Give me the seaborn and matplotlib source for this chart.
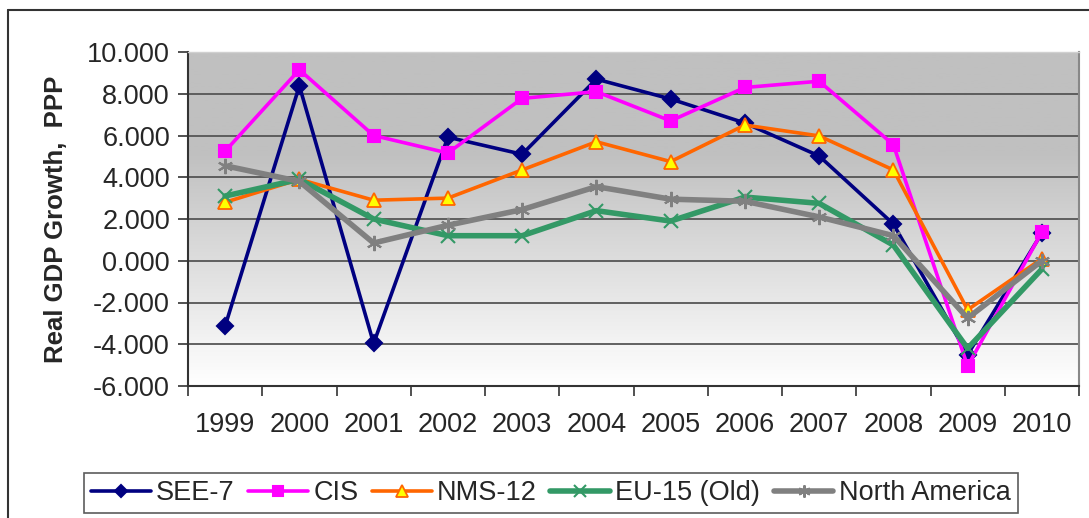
import matplotlib
matplotlib.use("Agg")
import matplotlib.pyplot as plt
import numpy as np
import pandas as pd
import seaborn as sns
from matplotlib.colors import LinearSegmentedColormap
from matplotlib.lines import Line2D

years = ["1999", "2000", "2001", "2002", "2003", "2004", "2005", "2006", "2007", "2008", "2009", "2010"]
see7 = [-3.13, 8.38, -3.96, 5.92, 5.10, 8.70, 7.75, 6.60, 5.02, 1.76, -4.50, 1.33]
cis = [5.25, 9.15, 6.00, 5.16, 7.78, 8.10, 6.70, 8.30, 8.60, 5.56, -5.05, 1.37]
nms12 = [2.80, 3.90, 2.90, 3.00, 4.35, 5.70, 4.75, 6.50, 5.98, 4.35, -2.35, 0.10]
eu15 = [3.10, 3.90, 2.00, 1.20, 1.20, 2.40, 1.90, 3.05, 2.75, 0.75, -4.20, -0.40]
north_america = [4.55, 3.80, 0.85, 1.70, 2.45, 3.55, 2.95, 2.85, 2.10, 1.20, -2.75, 0.00]

series = {
    "SEE-7": see7,
    "CIS": cis,
    "NMS-12": nms12,
    "EU-15 (Old)": eu15,
    "North America": north_america,
}

styles = {
    "SEE-7": dict(color="#000080", lw=2.6, marker="D", ms=8, mfc="#000080", mec="#000080"),
    "CIS": dict(color="#FF00FF", lw=2.6, marker="s", ms=9, mfc="#FF00FF", mec="#FF00FF"),
    "NMS-12": dict(color="#FF6600", lw=2.6, marker="^", ms=10, mfc="#FFFF00", mec="#FF6600"),
    "EU-15 (Old)": dict(color="#339966", lw=4.0, marker="x", ms=10, mfc="#339966", mec="#339966"),
    "North America": dict(color="#808080", lw=4.0, marker=(6, 2, 0), ms=11, mfc="#808080", mec="#808080"),
}

sns.set_style("white")
plt.rcParams["font.family"] = ["Liberation Sans", "DejaVu Sans"]

fig = plt.figure(figsize=(10.89, 5.18), dpi=100)
ax = fig.add_axes([188 / 1089, 1 - 386 / 518, 891 / 1089, 334 / 518])

# gray-to-white gradient background
grad = np.linspace(0, 1, 256).reshape(-1, 1)
cmap = LinearSegmentedColormap.from_list("bg", [(0, "#ffffff"), (0.7, "#c0c0c0"), (1, "#c0c0c0")])
ax.imshow(grad, extent=[-0.5, 11.5, -6, 10], origin="lower", aspect="auto", cmap=cmap, zorder=0)

for y in range(-4, 10, 2):
    ax.axhline(y, color="#555555", lw=1.3, zorder=1)

x = np.arange(len(years))
for name, vals in series.items():
    st = styles[name]
    df = pd.DataFrame({"x": x, "y": vals})
    sns.lineplot(data=df, x="x", y="y", ax=ax, color=st["color"], lw=st["lw"],
                 marker=st["marker"], markersize=st["ms"], markerfacecolor=st["mfc"],
                 markeredgecolor=st["mec"], markeredgewidth=1.5 if st["marker"] != "^" else 1.3,
                 label=name, zorder=3)

ax.set_xlim(-0.5, 11.5)
ax.set_ylim(-6, 10)
ax.set_yticks(np.arange(-6, 11, 2))
ax.set_yticklabels([f"{v:.3f}" for v in np.arange(-6, 11, 2)], fontsize=19.5)
ax.set_xticks(np.arange(-0.5, 12, 1))
ax.set_xticklabels([])
ax.set_xticks(x, minor=True)
ax.set_xticklabels(years, minor=True, fontsize=19.5)
ax.tick_params(axis="x", which="minor", length=0, pad=19)
ax.tick_params(axis="x", which="major", direction="out", length=7, width=1.2, color="#333333", bottom=True)
ax.tick_params(axis="y", direction="out", length=7, width=1.2, color="#333333", left=True, pad=6)
ax.set_xlabel("")
ax.set_ylabel("Real GDP Growth,  PPP", fontsize=18.5, fontweight="bold", labelpad=14)

ax.spines["left"].set_color("#333333")
ax.spines["left"].set_linewidth(1.5)
ax.spines["bottom"].set_color("#333333")
ax.spines["bottom"].set_linewidth(1.5)
ax.spines["right"].set_color("#888888")
ax.spines["right"].set_linewidth(1.5)
ax.spines["top"].set_color("#d0d0d0")
ax.spines["top"].set_linewidth(1.0)

handles, labels = ax.get_legend_handles_labels()
ax.get_legend().remove()
leg = fig.legend(handles, labels, loc="center", bbox_to_anchor=(551 / 1089, 1 - 493 / 518),
                 ncol=5, fontsize=19.5, frameon=True, fancybox=False, edgecolor="#333333",
                 handlelength=2.2, handletextpad=0.2, columnspacing=0.5, borderpad=0.25,
                 markerscale=0.8)
leg.get_frame().set_linewidth(1.2)

# outer chart border
fig.add_artist(Line2D([8 / 1089, 1], [1 - 10 / 518, 1 - 10 / 518], color="#333333", lw=1.5))
fig.add_artist(Line2D([8 / 1089, 8 / 1089], [0, 1 - 10 / 518], color="#333333", lw=1.5))

fig.savefig("out.png", dpi=100)
